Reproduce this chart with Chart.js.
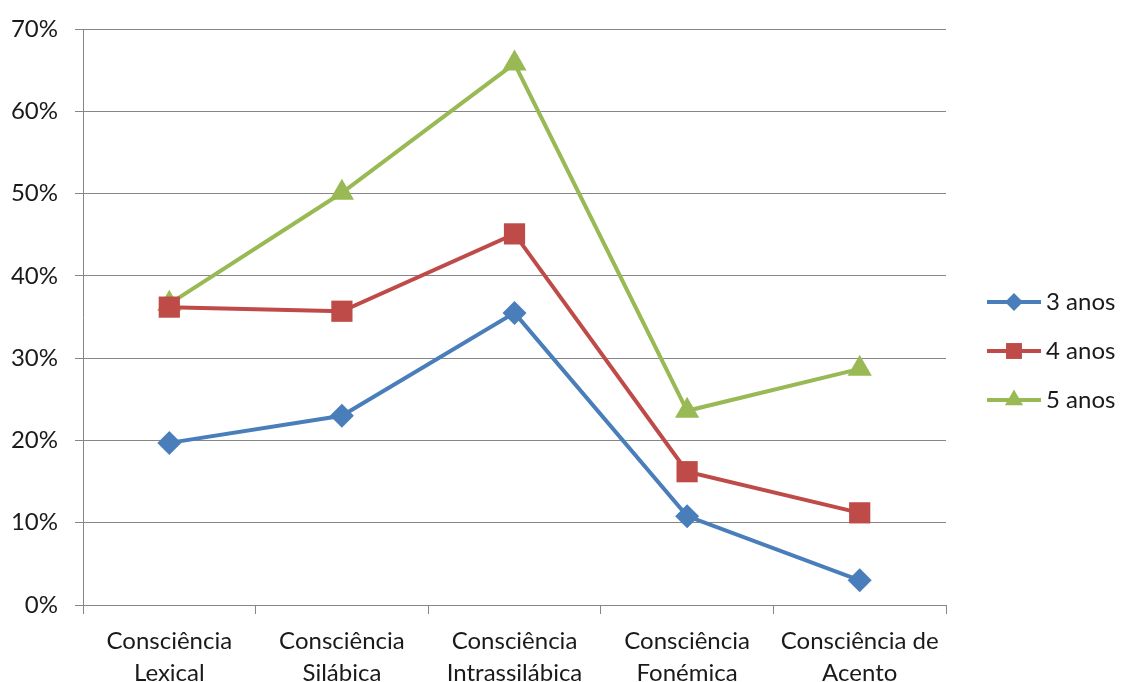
<!DOCTYPE html>
<html>
<head>
<meta charset="utf-8">
<script src="https://cdn.jsdelivr.net/npm/chart.js@4/dist/chart.umd.min.js"></script>
<style>
  html, body { margin: 0; padding: 0; background: #fff; }
  #wrap { width: 1121px; height: 682px; position: relative; }
</style>
</head>
<body>
<div id="wrap"><canvas id="grafico"></canvas></div>
<script>
// Categorias (eixo x)
const categorias = [
  ['Consciência', 'Lexical'],
  ['Consciência', 'Silábica'],
  ['Consciência', 'Intrassilábica'],
  ['Consciência', 'Fonémica'],
  ['Consciência de', 'Acento']
];

// Valores em percentagem
const tresAnos = [19.7, 23.0, 35.5, 10.8, 3.0];
const quatroAnos = [36.2, 35.7, 45.1, 16.2, 11.2];
const cincoAnos = [36.6, 50.1, 65.8, 23.6, 28.7];

const nomesSeries = ['3 anos', '4 anos', '5 anos'];
const marcasY = [0, 10, 20, 30, 40, 50, 60, 70];

const fonte = 'Lato, "Open Sans", sans-serif';
const corEixo = '#868686';
const corTexto = '#1a1a1a';

function serie(nome, dados, cor, estilo, raio) {
  return {
    label: nome,
    data: dados,
    borderColor: cor,
    backgroundColor: cor,
    borderWidth: 4,
    pointStyle: estilo,
    pointRadius: raio,
    pointHoverRadius: raio,
    pointBorderWidth: 0,
    tension: 0
  };
}

// Legenda desenhada à direita (linha com marcador ao centro)
const legendaPlugin = {
  id: 'legendaLateral',
  afterDraw(chart) {
    const ctx = chart.ctx;
    const ys = [302, 351, 400];
    chart.data.datasets.forEach((ds, i) => {
      const y = ys[i];
      ctx.save();
      ctx.strokeStyle = ds.borderColor;
      ctx.lineWidth = 4;
      ctx.beginPath();
      ctx.moveTo(987, y);
      ctx.lineTo(1041, y);
      ctx.stroke();
      ctx.fillStyle = ds.backgroundColor;
      Chart.helpers.drawPoint(ctx, {
        pointStyle: ds.pointStyle,
        radius: ds.pointRadius * 0.75,
        rotation: 0,
        borderWidth: 0
      }, 1014, y);
      ctx.fillStyle = corTexto;
      ctx.font = '24px ' + fonte;
      ctx.textBaseline = 'middle';
      ctx.textAlign = 'left';
      ctx.fillText(ds.label, 1046, y);
      ctx.restore();
    });
  }
};

new Chart(document.getElementById('grafico'), {
  type: 'line',
  data: {
    labels: categorias,
    datasets: [
      serie(nomesSeries[0], tresAnos, '#4A7EBB', 'rectRot', 12),
      serie(nomesSeries[1], quatroAnos, '#BE4B48', 'rect', 15),
      serie(nomesSeries[2], cincoAnos, '#98B954', 'triangle', 14)
    ]
  },
  options: {
    responsive: true,
    maintainAspectRatio: false,
    devicePixelRatio: 1,
    animation: false,
    layout: { padding: { top: 11, right: 175, bottom: 0, left: 0 } },
    plugins: {
      legend: { display: false },
      tooltip: { enabled: false }
    },
    scales: {
      x: {
        offset: true,
        grid: {
          offset: true,
          drawOnChartArea: false,
          drawTicks: true,
          tickLength: 9,
          color: corEixo,
          lineWidth: 1
        },
        border: { display: true, color: corEixo, width: 1 },
        ticks: {
          color: corTexto,
          font: { family: fonte, size: 24, lineHeight: 1.3 },
          padding: 12,
          maxRotation: 0,
          autoSkip: false
        },
        afterFit(scale) { scale.height = 77; }
      },
      y: {
        min: 0,
        max: 70,
        grid: {
          color: corEixo,
          lineWidth: 1,
          drawTicks: true,
          tickLength: 8
        },
        border: { display: true, color: corEixo, width: 1 },
        afterBuildTicks(scale) {
          scale.ticks = marcasY.map(v => ({ value: v }));
        },
        ticks: {
          color: corTexto,
          font: { family: fonte, size: 24, lineHeight: 1 },
          padding: 17,
          callback: v => v + '%'
        },
        afterFit(scale) { scale.width = 83; }
      }
    }
  },
  plugins: [legendaPlugin]
});
</script>
</body>
</html>
